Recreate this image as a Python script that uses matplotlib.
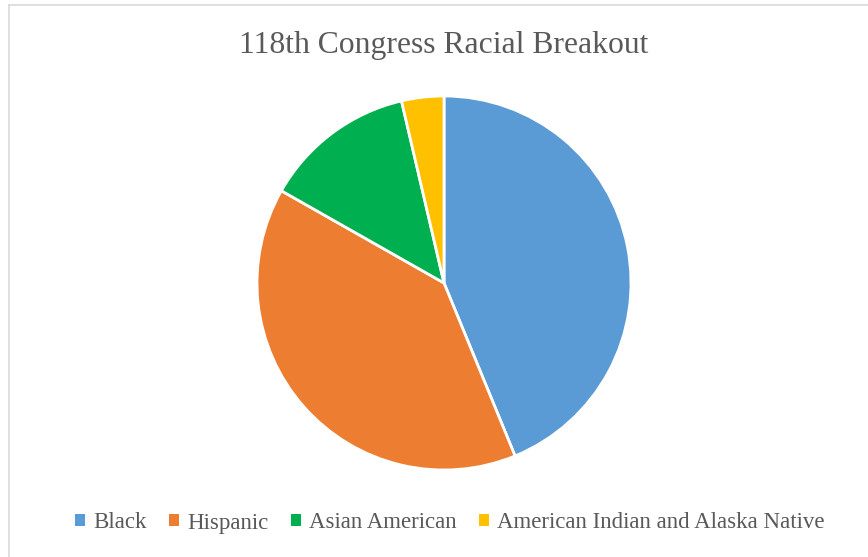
import matplotlib
matplotlib.use("Agg")
import matplotlib.pyplot as plt
from matplotlib.lines import Line2D

# 118th Congress members by race
groups = ["Black", "Hispanic", "Asian American", "American Indian and Alaska Native"]
members = [60, 54, 18, 5]
colors = ["#5B9BD5", "#ED7D31", "#00B050", "#FFC000"]

W, H = 868, 557
fig = plt.figure(figsize=(W / 100, H / 100), dpi=100)
fig.patch.set_facecolor("white")

# chart area border (top and left edges only are visible)
fig.add_artist(Line2D([9 / W, 9 / W], [0, 1 - 5 / H], transform=fig.transFigure,
                      color="#d9d9d9", lw=1.2))
fig.add_artist(Line2D([9 / W, 1], [1 - 5 / H, 1 - 5 / H], transform=fig.transFigure,
                      color="#d9d9d9", lw=1.2))

cx, cy, r = 444, 283, 187
pad = 192
ax = fig.add_axes([(cx - pad) / W, 1 - (cy + pad) / H, 2 * pad / W, 2 * pad / H])
wedges, _ = ax.pie(members, colors=colors, startangle=90, counterclock=False,
                   radius=1.0, wedgeprops=dict(edgecolor="white", linewidth=2.0))
lim = pad / r
ax.set_xlim(-lim, lim)
ax.set_ylim(-lim, lim)
ax.set_aspect("equal")
ax.axis("off")

fig.text(cx / W, 1 - 45 / H, "118th Congress Racial Breakout", ha="center", va="center",
         fontsize=22.8, family="Liberation Serif", color="#595959")

leg = fig.legend(wedges, groups, loc="center", bbox_to_anchor=(450 / W, 1 - 523 / H),
                 ncol=4, frameon=False, handlelength=0.42, handleheight=0.42,
                 handletextpad=0.35, columnspacing=1.0,
                 prop=dict(family="Liberation Serif", size=16.5))
for t in leg.get_texts():
    t.set_color("#595959")
for h in leg.legend_handles:
    h.set_edgecolor("none")

fig.savefig("out.png", dpi=100, facecolor="white")
